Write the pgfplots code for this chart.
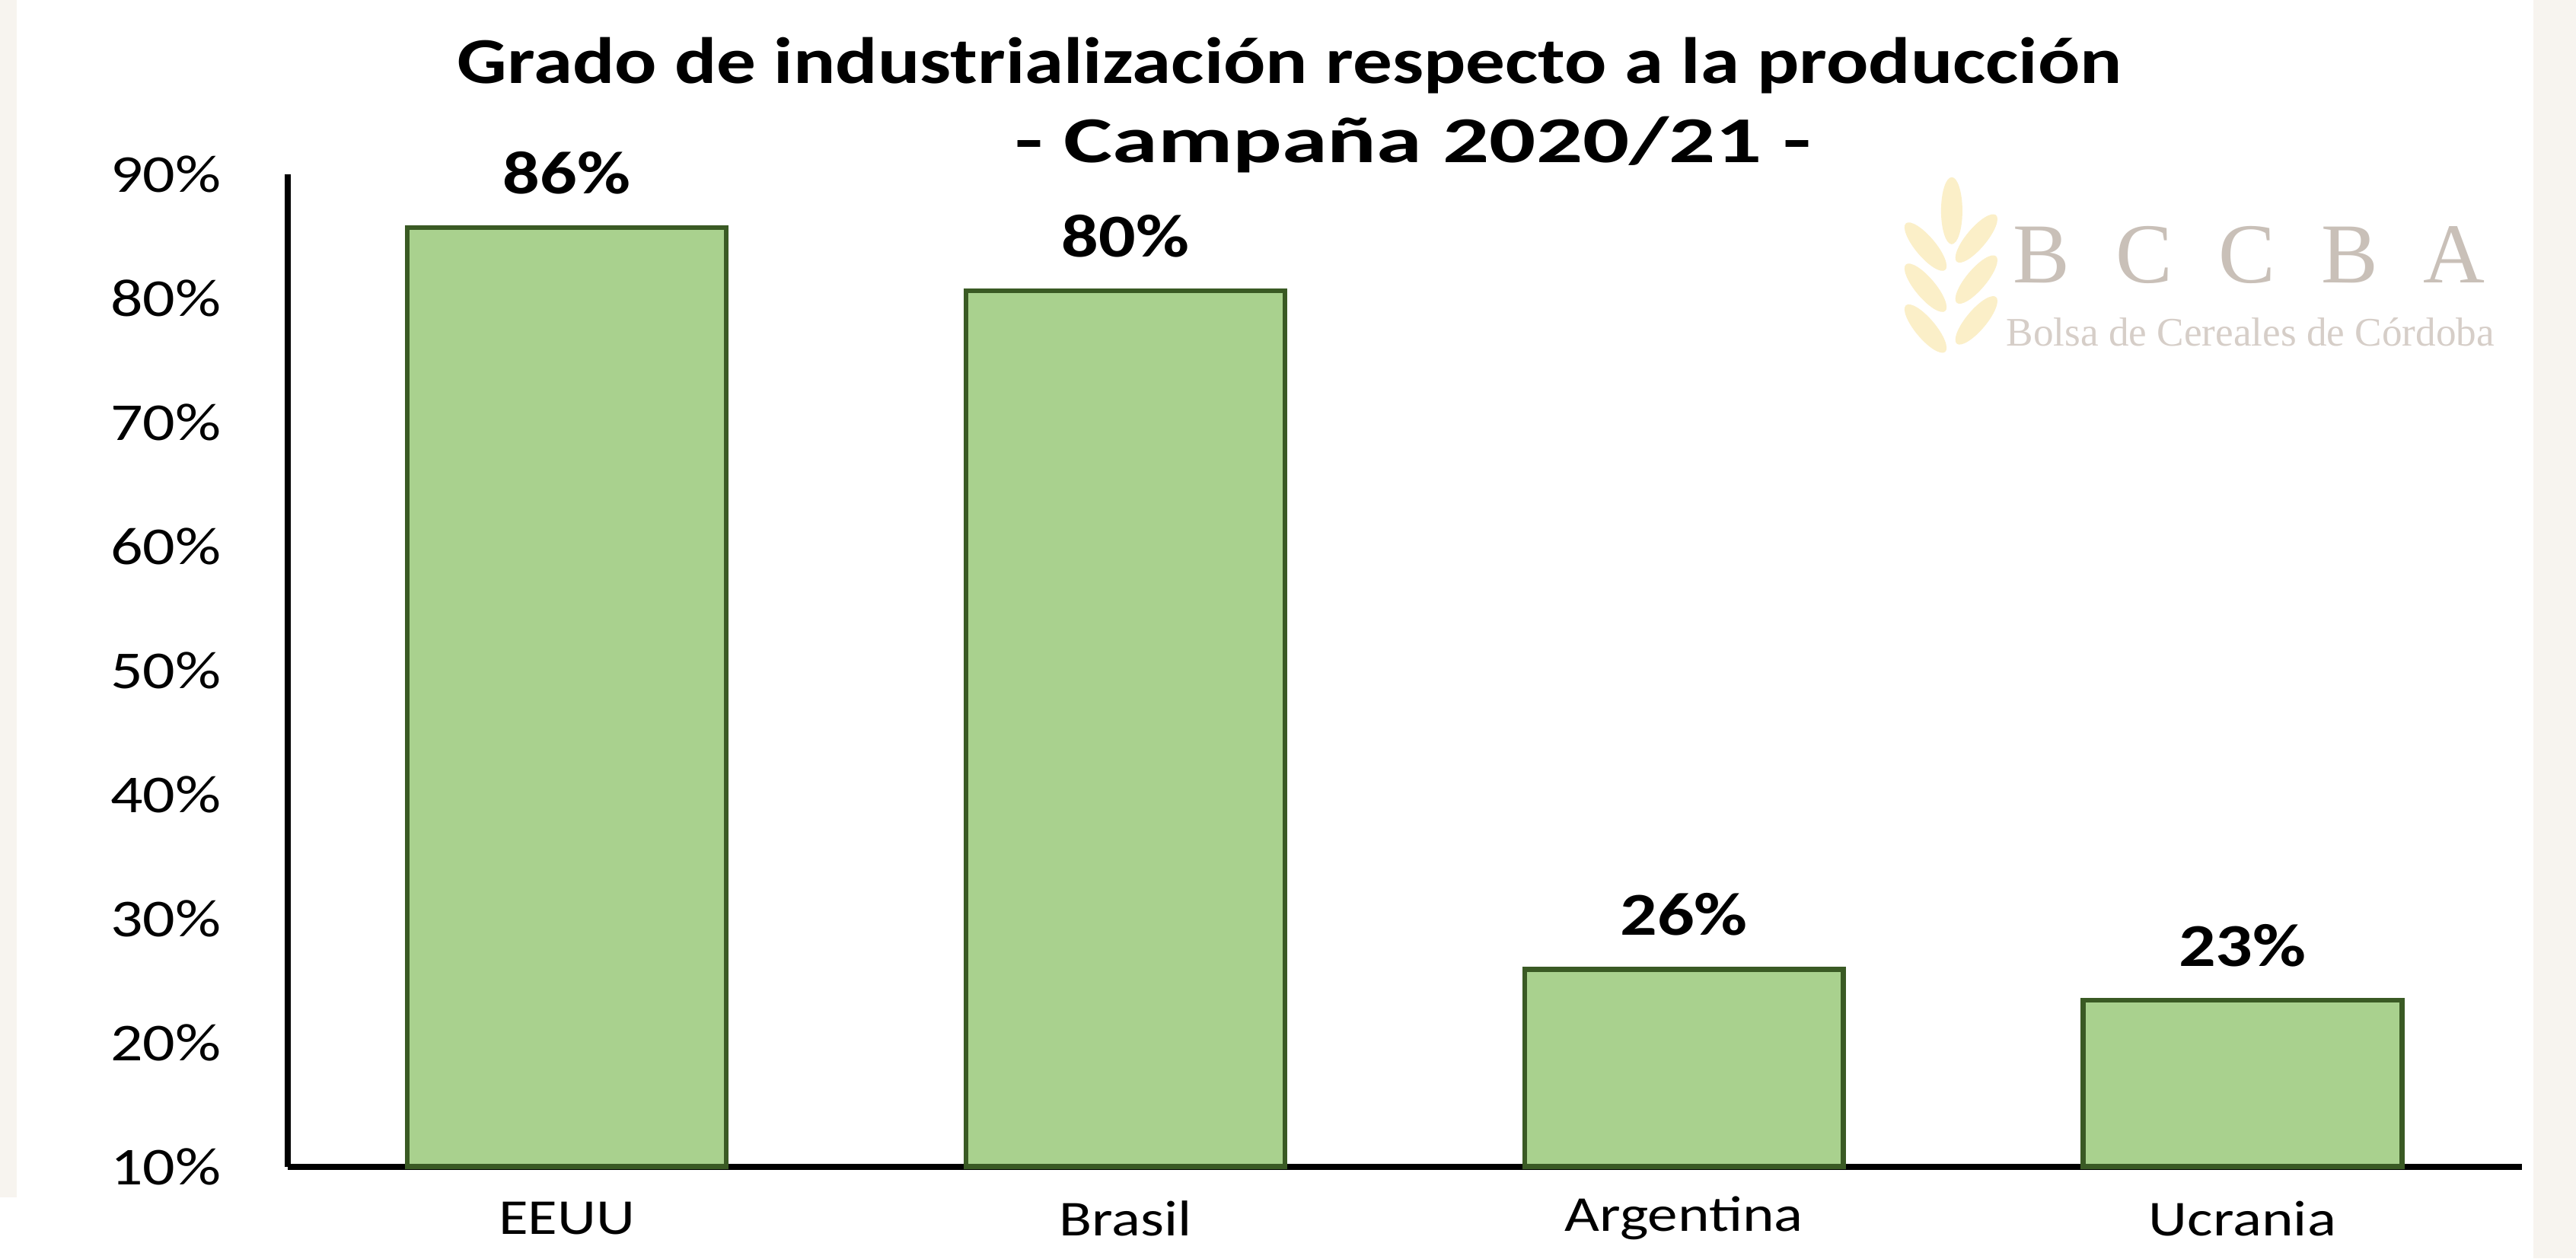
\documentclass[border=0pt]{standalone}
\usepackage{pgfplots}
\pgfplotsset{compat=1.18}
\usepackage{fontspec}
\setmainfont{Carlito}[FakeStretch=1.2]
\newfontfamily\logofont{Liberation Serif}
\definecolor{barfill}{HTML}{A9D18E}
\definecolor{baredge}{HTML}{3A5A24}
\definecolor{beigebg}{HTML}{F7F4EF}
\definecolor{logogray}{HTML}{C9C0B8}
\definecolor{logogray2}{HTML}{D6CEC8}
\definecolor{wheat}{HTML}{FBEFC8}
\begin{document}
\begin{tikzpicture}
\fill[white] (0,0) rectangle (845.9pt,413.3pt);
\fill[beigebg] (0,20pt) rectangle (5.4pt,413.3pt);
\fill[beigebg] (832pt,0) rectangle (845.9pt,413.3pt);
% logo watermark
\begin{scope}[wheat]
\fill (640.9pt,344.1pt) ellipse [x radius=3.5pt, y radius=11pt];
\foreach \yy in {332.3,318.8,305.4}{
  \fill[rotate around={40:(632.3pt,\yy pt)}] (632.3pt,\yy pt) ellipse [x radius=3.3pt, y radius=10pt];}
\foreach \yy in {335.0,321.5,308.1}{
  \fill[rotate around={-40:(649.0pt,\yy pt)}] (649.0pt,\yy pt) ellipse [x radius=3.3pt, y radius=10pt];}
\end{scope}
\node[logogray, inner sep=0pt] at (738.6pt,329.6pt) {\logofont\fontsize{28}{28}\selectfont\makebox[155pt][s]{B\hfill C\hfill C\hfill B\hfill A}};
\node[logogray2, inner sep=0pt] at (739pt,304.3pt) {\logofont\fontsize{13.3}{13.3}\selectfont Bolsa de Cereales de Córdoba};
% title
\node[inner sep=0pt] at (423.5pt,391.7pt) {\bfseries\fontsize{21.5}{21.5}\selectfont Grado de industrialización respecto a la producción};
\node[inner sep=0pt, xscale=1.17] at (464pt,365.9pt) {\bfseries\fontsize{21.5}{21.5}\selectfont - Campaña 2020/21 -};
\begin{axis}[
  at={(94.4pt,30.2pt)}, anchor=south west,
  scale only axis, width=733.7pt, height=325.9pt,
  xmin=-0.5, xmax=3.5, ymin=10, ymax=90,
  axis x line=bottom, axis y line=left,
  axis line style={-, line width=2pt, black},
  xtick={0,1,2,3}, xticklabels={EEUU,Brasil,Argentina,Ucrania},
  ytick={10,20,30,40,50,60,70,80,90},
  yticklabels={10\%,20\%,30\%,40\%,50\%,60\%,70\%,80\%,90\%},
  major tick length=0pt,
  tick label style={black},
  xticklabel style={font=\fontsize{16.5}{16.5}\selectfont, anchor=center, yshift=-17pt},
  yticklabel style={font=\fontsize{17.5}{17.5}\selectfont, anchor=east, inner sep=0pt, xshift=-21.6pt},
  ybar, bar width=104.7pt,
  nodes near coords, point meta=explicit symbolic,
  nodes near coords style={font=\bfseries\fontsize{20}{20}\selectfont, anchor=center, yshift=18pt, black},
  clip=false,
]
\addplot[fill=barfill, draw=baredge, line width=1.6pt] coordinates {(0,85.7)[86\%] (1,80.6)[80\%] (2,25.9)[26\%] (3,23.4)[23\%]};
\end{axis}
\pgfresetboundingbox
\path[use as bounding box] (0,0) rectangle (845.9pt,413.3pt);
\end{tikzpicture}
\end{document}
